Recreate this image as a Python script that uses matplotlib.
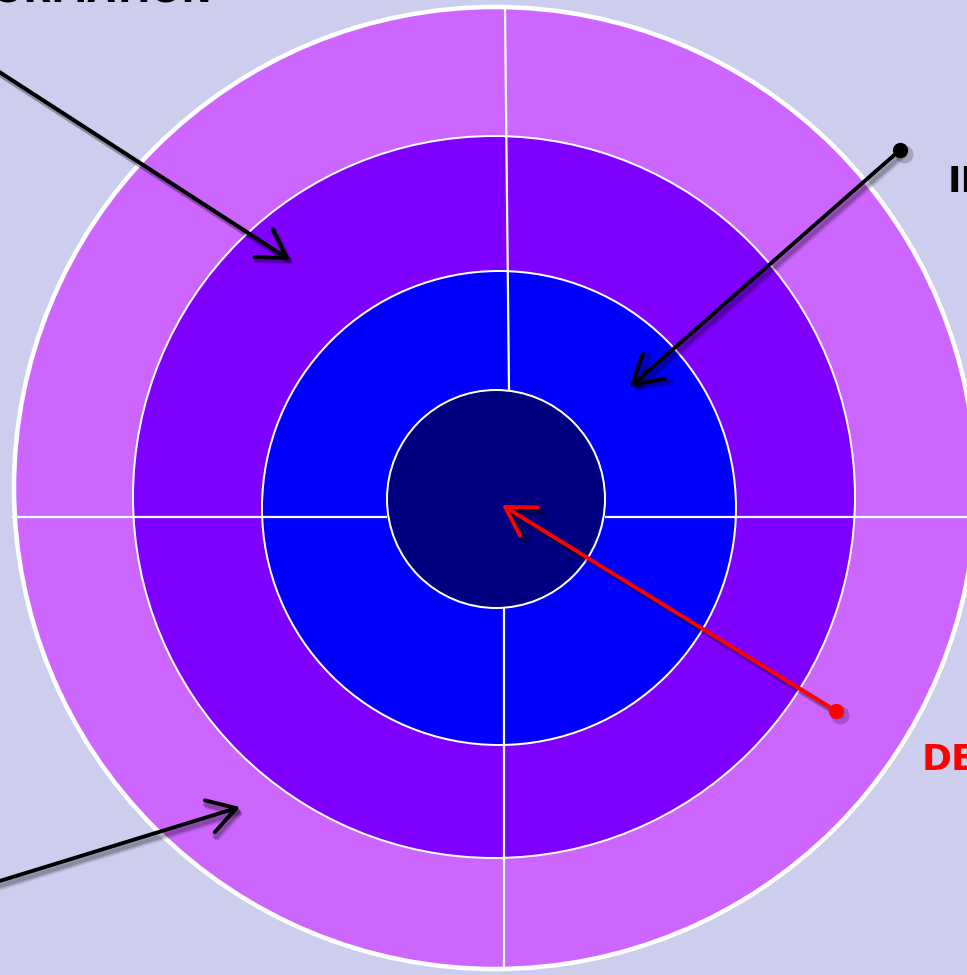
import matplotlib
matplotlib.use("Agg")
import matplotlib.pyplot as plt
from matplotlib.patches import Circle

# rings, outer to inner: (center x, center y, radius) in pixels
ring_names = ["outer", "middle", "inner", "core"]
ring_colors = ["#CC66FF", "#8000FF", "#0000FF", "#000080"]
ring_cx = [495, 494, 499, 496]
ring_cy = [488, 497, 508, 499]
ring_r = [481, 361, 237, 109]
ring_edge = [4.5, 2.0, 2.0, 2.0]

# white divider segments
div_x = [[505, 509], [504, 504], [12, 387], [605, 967]]
div_y = [[8, 390], [608, 970], [517, 517], [517, 517]]

# callout arrows: tail -> head, colour, dot at tail
arrow_tail = [(-10, 66), (900, 150), (836, 711), (-10, 884)]
arrow_head = [(290, 260), (630, 387), (502, 505), (240, 807)]
arrow_color = ["black", "black", "red", "black"]
arrow_dot = [False, True, True, False]

labels = ["INFORMATION", "INPUT", "DECISION"]
label_pos = [(212, 1.5), (948, 181), (922, 760)]
label_ha = ["right", "left", "left"]
label_va = ["baseline", "center", "center"]
label_color = ["black", "black", "red"]

fig = plt.figure(figsize=(9.67, 9.75), dpi=100)
fig.patch.set_facecolor("#CDCEEE")
ax = fig.add_axes([0, 0, 1, 1])
ax.set_facecolor("#CDCEEE")
ax.set_xlim(0, 967)
ax.set_ylim(975, 0)
ax.axis("off")

for i in range(len(ring_names)):
    c = Circle((ring_cx[i], ring_cy[i]), ring_r[i], facecolor=ring_colors[i],
               edgecolor="white", linewidth=ring_edge[i] * 0.72, zorder=1 + i)
    ax.add_patch(c)
    if i == 2:
        # dividers sit above the three outer rings but below the core
        for xs, ys in zip(div_x, div_y):
            ax.plot(xs, ys, color="white", linewidth=1.6, zorder=3.5,
                    solid_capstyle="butt")

for t, h, col, dot in zip(arrow_tail, arrow_head, arrow_color, arrow_dot):
    # soft drop shadow first
    for off, a in [(5, 0.08), (4, 0.12), (3, 0.16)]:
        ax.annotate("", xy=(h[0] + off, h[1] + off), xytext=(t[0] + off, t[1] + off),
                    arrowprops=dict(arrowstyle="->,head_length=0.5,head_width=0.3",
                                    color="black", alpha=a, lw=4.5, mutation_scale=40,
                                    shrinkA=0, shrinkB=0),
                    zorder=9)
    ax.annotate("", xy=h, xytext=t,
                arrowprops=dict(arrowstyle="->,head_length=0.5,head_width=0.3",
                                color=col, lw=2.8, mutation_scale=40,
                                shrinkA=0, shrinkB=0),
                zorder=10)
    if dot:
        ax.plot([t[0] + 4], [t[1] + 4], "o", color="black", alpha=0.2,
                markersize=13, markeredgewidth=0, zorder=9)
        ax.plot([t[0]], [t[1]], "o", color=col, markersize=11,
                markeredgewidth=0, zorder=11)

for txt, pos, ha, va, col in zip(labels, label_pos, label_ha, label_va, label_color):
    ax.text(pos[0], pos[1], txt, ha=ha, va=va, color=col, fontsize=26,
            fontweight="bold", family="DejaVu Sans", zorder=12)

fig.savefig("out.png", dpi=100, facecolor=fig.get_facecolor())
